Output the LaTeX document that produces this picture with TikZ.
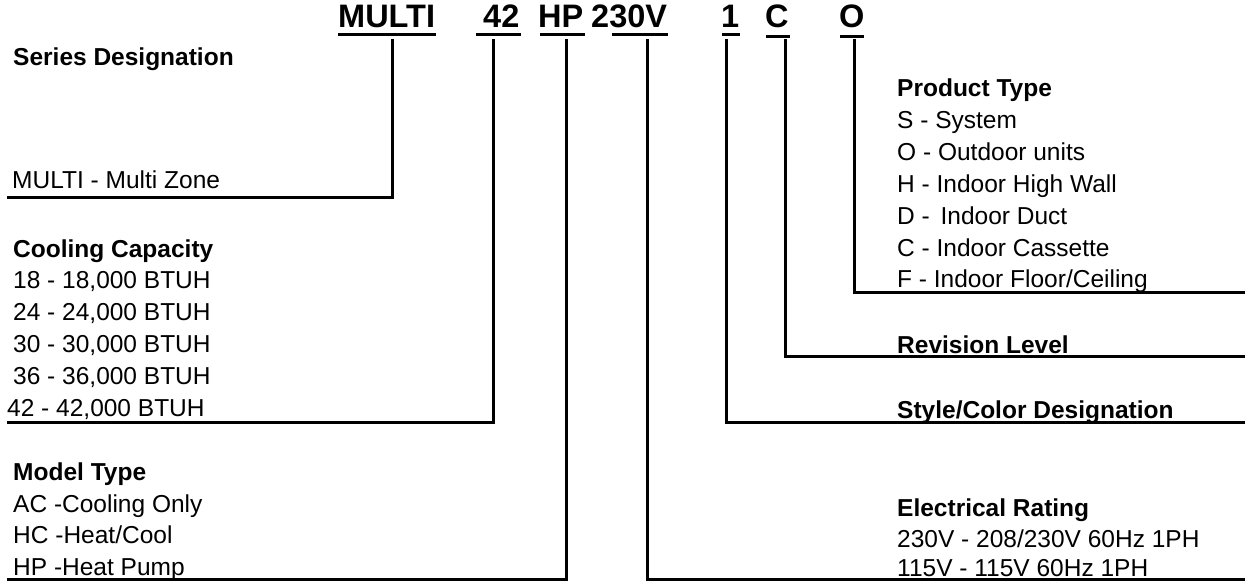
\documentclass[tikz,border=0pt]{standalone}
\usepackage{fontspec}
\setmainfont{Liberation Sans}
\begin{document}
\begin{tikzpicture}[x=1pt,y=-1pt,
  lbl/.style={anchor=base west,inner sep=0pt,font=\fontsize{24.5}{29}\selectfont},
  hd/.style={anchor=base west,inner sep=0pt,font=\fontsize{24.5}{29}\selectfont\bfseries},
  code/.style={anchor=base west,inner sep=0pt,font=\fontsize{32.5}{38}\selectfont\bfseries},
  conn/.style={line width=3pt,line join=miter},
  uline/.style={line width=3.3pt}]
\useasboundingbox (0,0) rectangle (1245,582);

% header codes
\node[code] (cMulti) at (338,27) {MULTI};
\node[code] (cCap) at (483,27) {42};
\node[code] (cType) at (538,27) {HP};
\node[code] (cVolt) at (591,27) {230V};
\node[code] (cStyle) at (721,27) {1};
\node[code] (cRev) at (765,27) {C};
\node[code] (cProd) at (839,27) {O};

% header underlines
\draw[uline] (338,34.5) -- (436,34.5);
\draw[uline] (476,34.5) -- (521,34.5);
\draw[uline] (540,34.5) -- (585,34.5);
\draw[uline] (612,34.5) -- (668,34.5);
\draw[uline] (722,34.5) -- (740,34.5);
\draw[uline] (766,36.7) -- (790,36.7);
\draw[uline] (840,36.7) -- (864,36.7);

% left labels
\node[hd] (sd) at (13,65) {Series Designation};
\node[lbl] (mz) at (12,188) {MULTI - Multi Zone};

\node[hd] (cc) at (13,257) {Cooling Capacity};
\node[lbl] (c18) at (13,288) {18 - 18,000 BTUH};
\node[lbl] (c24) at (13,320) {24 - 24,000 BTUH};
\node[lbl] (c30) at (13,352) {30 - 30,000 BTUH};
\node[lbl] (c36) at (13,384) {36 - 36,000 BTUH};
\node[lbl] (c42) at (7,416) {42 - 42,000 BTUH};

\node[hd] (mt) at (13,480) {Model Type};
\node[lbl] (mac) at (13,512) {AC -Cooling Only};
\node[lbl] (mhc) at (13,543) {HC -Heat/Cool};
\node[lbl] (mhp) at (13,575) {HP -Heat Pump};

% right labels
\node[hd] (pt) at (897,96) {Product Type};
\node[lbl] (ps) at (897,128) {S - System};
\node[lbl] (po) at (897,160) {O - Outdoor units};
\node[lbl] (ph) at (897,192) {H - Indoor High Wall};
\node[lbl] (pd) at (897,224) {D -\hspace{4pt} Indoor Duct};
\node[lbl] (pc) at (897,256) {C - Indoor Cassette};
\node[lbl] (pf) at (897,287) {F - Indoor Floor/Ceiling};

\node[hd] (rl) at (897,353) {Revision Level};
\node[hd] (scd) at (897,418) {Style/Color Designation};

\node[hd] (er) at (897,516) {Electrical Rating};
\node[lbl] (e230) at (897,547) {230V - 208/230V 60Hz 1PH};
\node[lbl] (e115) at (897,576) {115V - 115V 60Hz 1PH};

% connector coordinates
\coordinate (tMulti) at (392,39);
\coordinate (eMulti) at (7,197);
\coordinate (tCap) at (493,39);
\coordinate (eCap) at (7,422);
\coordinate (tType) at (566,39);
\coordinate (eType) at (7,579);
\coordinate (tVolt) at (647,39);
\coordinate (eVolt) at (1245,579);
\coordinate (tStyle) at (726,39);
\coordinate (eStyle) at (1245,422);
\coordinate (tRev) at (785,39);
\coordinate (eRev) at (1245,356);
\coordinate (tProd) at (854,39);
\coordinate (eProd) at (1245,292);

\draw[conn] (tMulti) |- (eMulti);
\draw[conn] (tCap) |- (eCap);
\draw[conn] (tType) |- (eType);
\draw[conn] (tVolt) |- (eVolt);
\draw[conn] (tStyle) |- (eStyle);
\draw[conn] (tRev) |- (eRev);
\draw[conn] (tProd) |- (eProd);
\end{tikzpicture}
\end{document}
